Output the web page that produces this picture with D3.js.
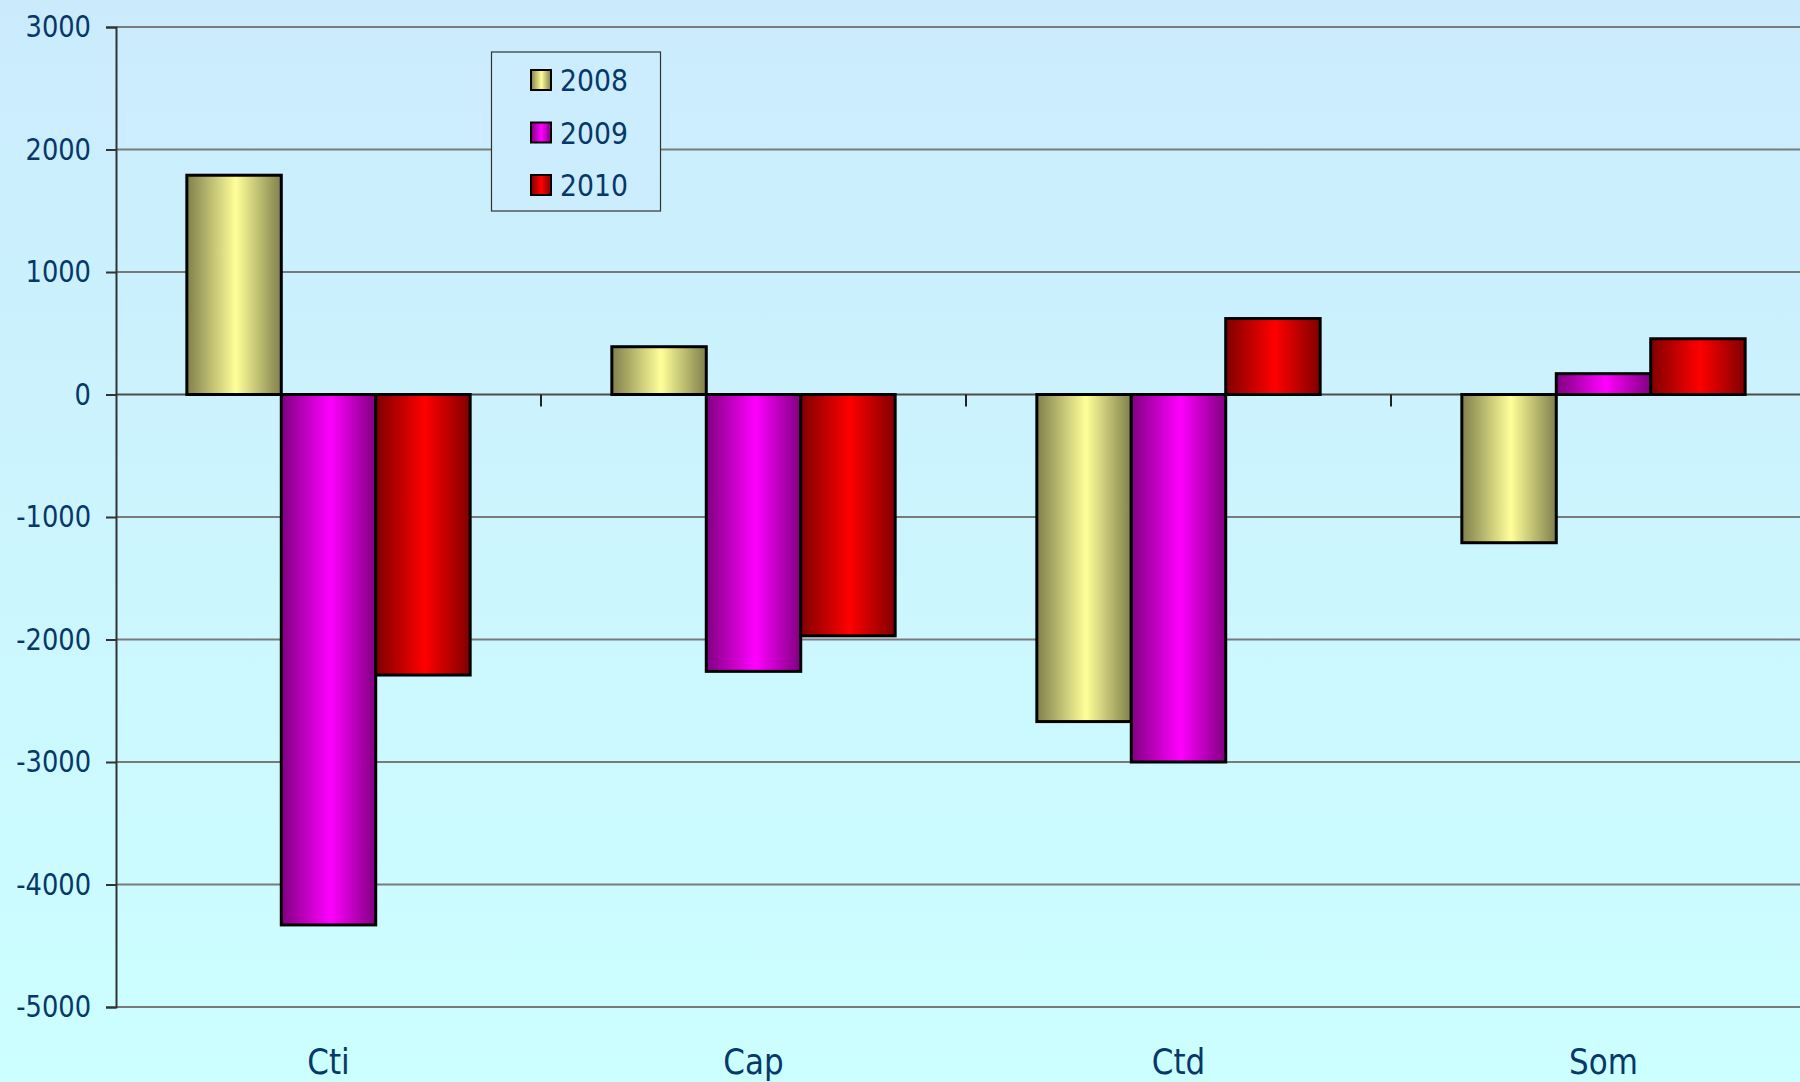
<!DOCTYPE html>
<html>
<head>
<meta charset="utf-8">
<script src="https://cdn.jsdelivr.net/npm/d3@7"></script>
<style>
  html, body { margin: 0; padding: 0; overflow: hidden; }
  text { font-family: "DejaVu Sans", sans-serif; fill: #07386a; }
</style>
</head>
<body>
<div id="chart"></div>
<script>
// Data
var categories = ["Cti", "Cap", "Ctd", "Som"];
var years = ["2008", "2009", "2010"];
var values2008 = [1790, 390, -2670, -1210];
var values2009 = [-4330, -2260, -3000, 170];
var values2010 = [-2290, -1970, 620, 455];
var yTicks = [3000, 2000, 1000, 0, -1000, -2000, -3000, -4000, -5000];

var seriesValues = [values2008, values2009, values2010];

// SVG container
var svgWidth = 1800;
var svgHeight = 1082;

var margin = { top: 27, left: 116 };
var plotRight = 1816;   // plot runs slightly past the right edge
var plotBottom = 1007;

var svg = d3.select("#chart").append("svg")
            .attr("width", svgWidth)
            .attr("height", svgHeight);

var defs = svg.append("defs");

// Background gradient
var bg = defs.append("linearGradient")
             .attr("id", "bg")
             .attr("x1", 0).attr("y1", 0).attr("x2", 0).attr("y2", 1);
bg.append("stop").attr("offset", "0%").attr("stop-color", "#cbebfd");
bg.append("stop").attr("offset", "100%").attr("stop-color", "#ccffff");

svg.append("rect")
   .attr("width", svgWidth)
   .attr("height", svgHeight)
   .attr("fill", "url(#bg)");

// Bar gradients: dark edges, light middle
var barColors = [
  { edge: "#7f7f4c", mid: "#ffff99" },
  { edge: "#800080", mid: "#ff00ff" },
  { edge: "#800000", mid: "#ff0000" }
];
barColors.forEach(function(c, i) {
  var g = defs.append("linearGradient")
              .attr("id", "bar" + i)
              .attr("x1", 0).attr("y1", 0).attr("x2", 1).attr("y2", 0);
  g.append("stop").attr("offset", "0%").attr("stop-color", c.edge);
  g.append("stop").attr("offset", "52%").attr("stop-color", c.mid);
  g.append("stop").attr("offset", "100%").attr("stop-color", c.edge);
});

// Scales
var xScale = d3.scaleBand()
               .domain(categories)
               .range([margin.left, plotRight])
               .paddingInner(0)
               .paddingOuter(0);

// gap width 150% of a bar, split on both sides of the group
var xInner = d3.scaleBand()
               .domain(years)
               .range([0, xScale.bandwidth()])
               .paddingOuter(0.75)
               .paddingInner(0);

var yScale = d3.scaleLinear()
               .domain([-5000, 3000])
               .range([plotBottom, margin.top]);

// Narrow the text a bit so it looks like the original (Tahoma-ish) face
function narrow(sel, k) {
  sel.each(function() {
    var len = this.getComputedTextLength();
    d3.select(this)
      .attr("textLength", len * k)
      .attr("lengthAdjust", "spacingAndGlyphs");
  });
}

// Gridlines
svg.append("g")
   .selectAll("line")
   .data(yTicks)
   .enter()
   .append("line")
   .attr("x1", margin.left)
   .attr("x2", plotRight)
   .attr("y1", d => yScale(d))
   .attr("y2", d => yScale(d))
   .attr("stroke", d => d === 0 ? "#4d4d4d" : "#7a7a7a")
   .attr("stroke-width", 2);

// Y axis
var yAxis = d3.axisLeft(yScale)
              .tickValues(yTicks)
              .tickSize(10)
              .tickPadding(15)
              .tickFormat(d => String(d));

var yAxisG = svg.append("g")
                .attr("transform", `translate(${margin.left}, 0)`)
                .call(yAxis);
yAxisG.select(".domain").attr("stroke", "#333").attr("stroke-width", 2);
yAxisG.selectAll(".tick line").attr("stroke", "#333").attr("stroke-width", 2);
yAxisG.selectAll(".tick text")
      .attr("font-size", "31px")
      .attr("fill", "#07386a")
      .style("font-family", "'DejaVu Sans', sans-serif")
      .call(narrow, 0.83);

// Category ticks on the zero line
svg.append("g")
   .selectAll("line")
   .data(categories.slice(1))
   .enter()
   .append("line")
   .attr("x1", d => xScale(d))
   .attr("x2", d => xScale(d))
   .attr("y1", yScale(0))
   .attr("y2", yScale(0) + 12)
   .attr("stroke", "#222")
   .attr("stroke-width", 2);

// Bars
var groups = svg.append("g")
                .selectAll("g")
                .data(categories)
                .enter()
                .append("g")
                .attr("transform", d => `translate(${xScale(d)}, 0)`);

groups.selectAll("rect")
      .data((d, ci) => years.map((y, si) => ({ year: y, si: si, value: seriesValues[si][ci] })))
      .enter()
      .append("rect")
      .attr("x", d => xInner(d.year))
      .attr("width", xInner.bandwidth())
      .attr("y", d => yScale(Math.max(0, d.value)))
      .attr("height", d => Math.abs(yScale(d.value) - yScale(0)))
      .attr("fill", d => `url(#bar${d.si})`)
      .attr("stroke", "#000")
      .attr("stroke-width", 3);

// Category labels
svg.append("g")
   .selectAll("text")
   .data(categories)
   .enter()
   .append("text")
   .attr("x", d => xScale(d) + xScale.bandwidth() / 2)
   .attr("y", 1074)
   .attr("text-anchor", "middle")
   .attr("font-size", "36px")
   .text(d => d)
   .call(narrow, 0.86);

// Legend
var legend = svg.append("g");
legend.append("rect")
      .attr("x", 491.5)
      .attr("y", 52)
      .attr("width", 169)
      .attr("height", 159)
      .attr("fill", "#ccedfd")
      .attr("stroke", "#333")
      .attr("stroke-width", 1.2);

var legendItems = legend.selectAll("g.item")
                        .data(years)
                        .enter()
                        .append("g")
                        .attr("class", "item")
                        .attr("transform", (d, i) => `translate(531, ${70 + i * 52.5})`);

legendItems.append("rect")
           .attr("width", 20)
           .attr("height", 20)
           .attr("fill", (d, i) => `url(#bar${i})`)
           .attr("stroke", "#000")
           .attr("stroke-width", 2);

legendItems.append("text")
           .attr("x", 29)
           .attr("y", 10)
           .attr("dy", "0.36em")
           .attr("font-size", "31px")
           .text(d => d)
           .call(narrow, 0.86);
</script>
</body>
</html>
